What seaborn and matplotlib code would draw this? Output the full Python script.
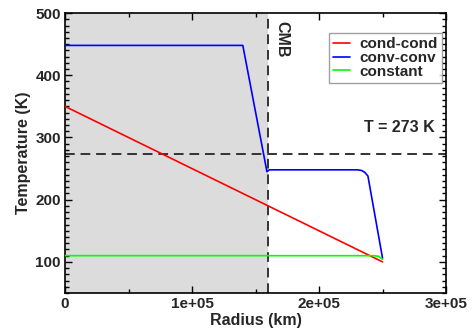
import matplotlib
matplotlib.use("Agg")
import matplotlib.pyplot as plt
import seaborn as sns
import pandas as pd
from matplotlib.ticker import MultipleLocator

# Data
cond_r = [0, 250000]
cond_t = [350, 100]

conv_r = [0, 140000, 159000, 161000, 230000, 233500, 236000, 238500, 250000]
conv_t = [448, 448, 245, 248, 248, 247, 244, 238, 106]

const_r = [0, 243000, 247000, 250000]
const_t = [110, 110, 109, 104]

series_names = ["cond-cond", "conv-conv", "constant"]
series_colors = ["#ff0000", "#0000ff", "#00ff00"]

cmb_radius = 160000
t_ref = 273
x_ticks = [0, 100000, 200000, 300000]
x_tick_labels = ["0", "1e+05", "2e+05", "3e+05"]
y_ticks = [100, 200, 300, 400, 500]

frames = []
for name, r, t in zip(series_names, [cond_r, conv_r, const_r], [cond_t, conv_t, const_t]):
    frames.append(pd.DataFrame({"Radius": r, "Temperature": t, "model": name}))
df = pd.concat(frames, ignore_index=True)

sns.set_style("ticks")
plt.rcParams["font.family"] = ["Liberation Sans", "DejaVu Sans"]
plt.rcParams["font.weight"] = "bold"

FS = 11.5

fig = plt.figure(figsize=(4.72, 3.35), dpi=100)
ax = fig.add_axes([0.1377, 0.1254, 0.8073, 0.8356])

ax.axvspan(0, cmb_radius, color="#dcdcdc", zorder=0, lw=0)

sns.lineplot(data=df, x="Radius", y="Temperature", hue="model",
             palette=dict(zip(series_names, series_colors)),
             sort=False, estimator=None, lw=1.2, ax=ax, zorder=3)

ax.axvline(cmb_radius, color="#333333", ls=(0, (5, 3)), lw=1.4, zorder=2)
ax.axhline(t_ref, color="#333333", ls=(0, (5, 3)), lw=1.4, zorder=2)

ax.text(cmb_radius + 4500, 487, "CMB", rotation=270, ha="left", va="top",
        fontsize=FS, fontweight="bold")
ax.text(291000, 304, "T = 273 K", ha="right", va="bottom",
        fontsize=FS, fontweight="bold")

ax.set_xlim(0, 300000)
ax.set_ylim(50, 500)
ax.set_xticks(x_ticks)
ax.set_xticklabels(x_tick_labels)
ax.set_yticks(y_ticks)
ax.xaxis.set_minor_locator(MultipleLocator(50000))
ax.yaxis.set_minor_locator(MultipleLocator(10))
ax.tick_params(which="both", direction="in", top=True, right=True,
               labelsize=11, width=1.0, color="black", pad=3)
ax.tick_params(which="major", length=5)
ax.tick_params(which="minor", length=3)
for lab in ax.get_xticklabels() + ax.get_yticklabels():
    lab.set_fontweight("bold")
for sp in ax.spines.values():
    sp.set_linewidth(1.2)
    sp.set_color("black")

ax.set_xlabel("Radius (km)", fontsize=FS, fontweight="bold", labelpad=1)
ax.set_ylabel("Temperature (K)", fontsize=FS, fontweight="bold", labelpad=3)

leg = ax.legend(loc="upper right", bbox_to_anchor=(0.99, 0.93), frameon=True,
                fancybox=False, handlelength=1.1, handletextpad=0.6,
                borderpad=0.3, labelspacing=-0.02, fontsize=11,
                borderaxespad=0.0)
leg.get_frame().set_edgecolor("#888888")
leg.get_frame().set_linewidth(1.0)
for t in leg.get_texts():
    t.set_fontweight("bold")

fig.savefig("out.png", dpi=100)
